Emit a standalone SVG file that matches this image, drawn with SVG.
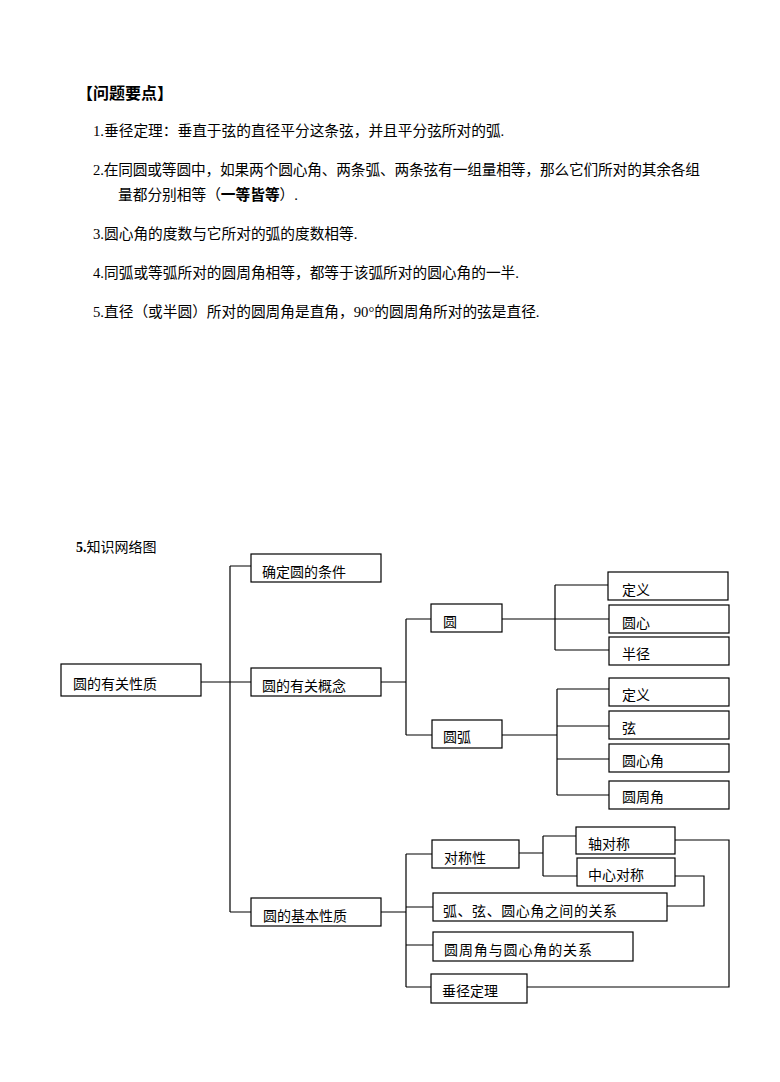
<svg xmlns="http://www.w3.org/2000/svg" width="780" height="1082" viewBox="0 0 780 1082">
<style>
text{font-family:"Liberation Serif","Noto Sans CJK SC",serif;fill:#000}
.body{font-size:14.7px}
.title{font-size:16px;font-weight:bold}
.lbl{font-size:14px}
.box{fill:#fff;stroke:#000;stroke-width:1.2}
.ln{fill:none;stroke:#000;stroke-width:1.2}
</style>
<rect width="780" height="1082" fill="#fff"/>
<g id="notes">
<text class="title" x="77" y="99">【问题要点】</text>
<text class="body" x="93" y="136">1.垂径定理：垂直于弦的直径平分这条弦，并且平分弦所对的弧.</text>
<text class="body" x="93" y="175" textLength="607" lengthAdjust="spacing">2.在同圆或等圆中，如果两个圆心角、两条弧、两条弦有一组量相等，那么它们所对的其余各组</text>
<text class="body" x="118" y="200">量都分别相等（<tspan font-weight="bold">一等皆等</tspan>）.</text>
<text class="body" x="93" y="239">3.圆心角的度数与它所对的弧的度数相等.</text>
<text class="body" x="93" y="278">4.同弧或等弧所对的圆周角相等，都等于该弧所对的圆心角的一半.</text>
<text class="body" x="93" y="317">5.直径（或半圆）所对的圆周角是直角，90°的圆周角所对的弦是直径.</text>
</g>
<text class="lbl" x="76" y="552"><tspan font-weight="bold">5.</tspan>知识网络图</text>
<g id="connectors">
<path class="ln" d="M230,566V912M230,566H251M201,682H251M230,912H251"/>
<path class="ln" d="M381,682H406M406,619V735M406,619H431M406,735H432"/>
<path class="ln" d="M502,619H609M555,585V650M555,585H608M555,650H609"/>
<path class="ln" d="M502,735H557M557,689V795M557,689H609M557,726H609M557,759H609M557,795H609"/>
<path class="ln" d="M381,912H406M406,854V987M406,854H432M406,907H433M406,945H433M406,987H431"/>
<path class="ln" d="M519,853H543M543,836V876M543,836H576M543,876H577"/>
<path class="ln" d="M675,876H704V906H667"/>
<path class="ln" d="M675,840H729V987H527"/>
</g>
<g id="n-root"><rect class="box" x="61" y="664" width="140" height="32"/><text class="lbl" x="73" y="689">圆的有关性质</text></g>
<g id="n-cond"><rect class="box" x="251" y="554" width="130" height="28"/><text class="lbl" x="262" y="577">确定圆的条件</text></g>
<g id="n-concept"><rect class="box" x="251" y="668" width="130" height="28"/><text class="lbl" x="262" y="691">圆的有关概念</text></g>
<g id="n-circle"><rect class="box" x="431" y="604" width="71" height="28"/><text class="lbl" x="443" y="627">圆</text></g>
<g id="n-def1"><rect class="box" x="608" y="572" width="120" height="28"/><text class="lbl" x="622" y="595">定义</text></g>
<g id="n-center"><rect class="box" x="609" y="605" width="120" height="28"/><text class="lbl" x="622" y="628">圆心</text></g>
<g id="n-radius"><rect class="box" x="609" y="637" width="120" height="28"/><text class="lbl" x="622" y="659">半径</text></g>
<g id="n-arc"><rect class="box" x="432" y="720" width="70" height="28"/><text class="lbl" x="443" y="742">圆弧</text></g>
<g id="n-def2"><rect class="box" x="609" y="678" width="120" height="28"/><text class="lbl" x="622" y="700">定义</text></g>
<g id="n-chord"><rect class="box" x="609" y="711" width="120" height="28"/><text class="lbl" x="622" y="733">弦</text></g>
<g id="n-cangle"><rect class="box" x="609" y="744" width="120" height="28"/><text class="lbl" x="622" y="766">圆心角</text></g>
<g id="n-iangle"><rect class="box" x="609" y="781" width="120" height="28"/><text class="lbl" x="622" y="802">圆周角</text></g>
<g id="n-basic"><rect class="box" x="251" y="898" width="130" height="28"/><text class="lbl" x="263" y="921">圆的基本性质</text></g>
<g id="n-sym"><rect class="box" x="432" y="840" width="87" height="28"/><text class="lbl" x="444" y="863">对称性</text></g>
<g id="n-axis"><rect class="box" x="576" y="827" width="99" height="27"/><text class="lbl" x="588" y="849">轴对称</text></g>
<g id="n-central"><rect class="box" x="577" y="858" width="98" height="28"/><text class="lbl" x="588" y="880">中心对称</text></g>
<g id="n-rel1"><rect class="box" x="433" y="893" width="234" height="28"/><text class="lbl" x="443" y="916" textLength="174" lengthAdjust="spacing">弧、弦、圆心角之间的关系</text></g>
<g id="n-rel2"><rect class="box" x="433" y="932" width="200" height="29"/><text class="lbl" x="444" y="955" textLength="148" lengthAdjust="spacing">圆周角与圆心角的关系</text></g>
<g id="n-perp"><rect class="box" x="431" y="974" width="96" height="29"/><text class="lbl" x="442" y="996">垂径定理</text></g>
</svg>
